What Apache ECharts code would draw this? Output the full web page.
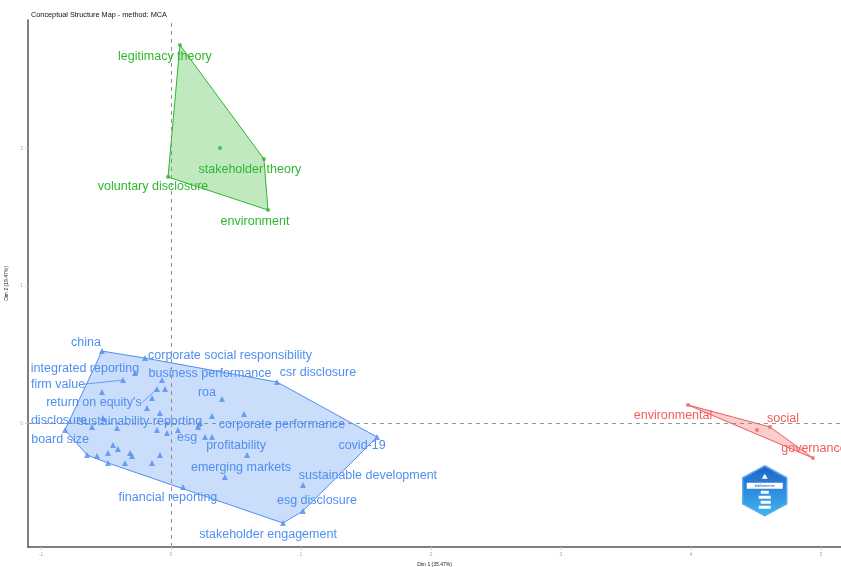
<!DOCTYPE html>
<html>
<head>
<meta charset="utf-8">
<script src="https://cdn.jsdelivr.net/npm/echarts@6/dist/echarts.min.js"></script>
<style>html,body{margin:0;padding:0;background:#fff}#c{width:841px;height:567px}</style>
</head>
<body>
<div id="c"></div>
<script>
// ---------- data ----------
const blueWords = ["china","corporate social responsibility","integrated reporting","business performance","csr disclosure","firm value","roa","return on equity's","disclosure","sustainability reporting","corporate performance","board size","esg","covid-19","profitability","emerging markets","sustainable development","financial reporting","esg disclosure","stakeholder engagement"];
const blueDim1 = [-0.531,-0.200,-0.277,-0.069,0.815,-0.369,0.392,-0.108,-0.815,-0.085,0.562,-0.646,0.054,1.585,0.585,0.415,1.015,0.092,1.015,0.862];
const blueDim2 = [0.527,0.476,0.367,0.316,0.302,0.316,0.178,0.251,-0.047,0.076,0.069,-0.229,-0.047,-0.098,-0.229,-0.389,-0.447,-0.462,-0.636,-0.724];
// unlabeled terms of the blue cluster
const blueExtraDim1 = [-0.531,-0.046,-0.185,-0.146,0.315,0.223,-0.108,-0.031,0.262,0.315,-0.415,-0.608,-0.523,-0.569,-0.485,-0.446,-0.408,-0.315,-0.300,-0.354,-0.485,-0.146,-0.085,0.208];
const blueExtraDim2 = [0.229,0.251,0.113,0.185,0.055,0.004,-0.047,-0.069,-0.098,-0.098,-0.033,-0.025,0.040,-0.236,-0.215,-0.156,-0.185,-0.215,-0.236,-0.287,-0.287,-0.287,-0.229,-0.025];

const greenWords = ["legitimacy theory","stakeholder theory","voluntary disclosure","environment"];
const greenDim1 = [0.069,0.715,-0.023,0.746];
const greenDim2 = [2.753,1.924,1.793,1.553];

const redWords = ["environmental","social","governance"];
const redDim1 = [3.977,4.608,4.938];
const redDim2 = [0.135,-0.025,-0.251];

// cluster centroids: blue, green, red
const centroidDim1 = [-0.03,0.377,4.508];
const centroidDim2 = [0.0,2.004,-0.047];

const xTicks = [-1,0,1,2,3,4,5];
const yTicks = [0,1,2];

// ---------- label layout (pixel nudges, repel-like) ----------
const blueNudge = [[-16,-9],[85,-3],[-50,-5],[48,-7],[41,-9],[-65,4],[-15,-7],[-63,14],[-6,-9],[-20,8],[38,10],[-27,-15],[9,8],[-15,9],[-11,-9],[16,-9],[65,-9],[-15,10],[14,-10],[-15,11]];
const blueSegment = [false,false,false,false,false,true,false,true,false,false,false,false,false,false,false,false,false,false,false,false];
const greenNudge = [[-15,12],[-14,11],[-15,10],[-13,12]];
const redNudge = [[-15,11],[13,-8],[1,-9]];

const BLUE = '#4f8ff0', GREEN = '#2fb62f', RED = '#f25c5c';
const FONT = '"Liberation Sans", Arial, sans-serif';
const LABEL_SIZE = 12.5;

const ctx = document.createElement('canvas').getContext('2d');
ctx.font = LABEL_SIZE + 'px ' + FONT;
function textW(t){ return ctx.measureText(t).width; }

function zip(a,b){ return a.map((v,i)=>[v,b[i]]); }

function hull(pts){
  const p = pts.slice().sort((a,b)=>a[0]-b[0]||a[1]-b[1]);
  const cross=(o,a,b)=>(a[0]-o[0])*(b[1]-o[1])-(a[1]-o[1])*(b[0]-o[0]);
  const lower=[],upper=[];
  for(const q of p){ while(lower.length>=2&&cross(lower[lower.length-2],lower[lower.length-1],q)<=0) lower.pop(); lower.push(q); }
  for(let i=p.length-1;i>=0;i--){ const q=p[i]; while(upper.length>=2&&cross(upper[upper.length-2],upper[upper.length-1],q)<=0) upper.pop(); upper.push(q); }
  upper.pop(); lower.pop();
  return lower.concat(upper);
}

const bluePts = zip(blueDim1,blueDim2).concat(zip(blueExtraDim1,blueExtraDim2));
const greenPts = zip(greenDim1,greenDim2);
const redPts = zip(redDim1,redDim2);
const hulls = [hull(bluePts), hull(greenPts), hull(redPts)];
const hullColors = [BLUE, GREEN, RED];

function rgba(hex,a){ const n=parseInt(hex.slice(1),16); return `rgba(${n>>16},${(n>>8)&255},${n&255},${a})`; }

function labelSeries(words, d1, d2, nudges, color, segs){
  return {
    type:'custom', z:5, silent:true, clip:false,
    data: words.map((w,i)=>[d1[i], d2[i], i]),
    renderItem:function(params, api){
      const i = api.value(2);
      const pt = api.coord([api.value(0), api.value(1)]);
      const n = nudges[i];
      const cx = pt[0]+n[0], cy = pt[1]+n[1];
      const w = textW(words[i]);
      const children = [];
      if (segs && segs[i]){
        const ex = pt[0] > cx ? cx + w/2 : cx - w/2;
        children.push({type:'line', shape:{x1:ex, y1:cy, x2:pt[0], y2:pt[1]}, style:{stroke:color, lineWidth:0.8}});
      }
      children.push({type:'text', style:{text:words[i], x:cx, y:cy, align:'center', verticalAlign:'middle', fill:color, font:LABEL_SIZE+'px '+FONT}});
      return {type:'group', children:children};
    }
  };
}

const chart = echarts.init(document.getElementById('c'), null, {renderer:'canvas'});
const option = {
  animation:false,
  backgroundColor:'#fff',
  title:{text:'Conceptual Structure Map - method: MCA', left:26, top:6, textStyle:{fontSize:7.3, fontWeight:'normal', color:'#111', fontFamily:FONT}},
  grid:{left:28, right:0, top:20, bottom:20, containLabel:false, outerBoundsMode:'none'},
  xAxis:{
    type:'value', min:-1.1, max:5.154,
    name:'Dim 1 (35.47%)', nameLocation:'middle', nameGap:14,
    nameTextStyle:{fontSize:5, color:'#222', fontFamily:FONT},
    axisLine:{show:true, onZero:false, lineStyle:{color:'#555', width:1.5}},
    axisTick:{show:true, customValues:xTicks, length:3, lineStyle:{color:'#ccc'}},
    axisLabel:{show:true, customValues:xTicks, fontSize:5, color:'#aaa', margin:5, fontFamily:FONT},
    splitLine:{show:false}
  },
  yAxis:{
    type:'value', min:-0.898, max:2.935,
    name:'Dim 2 (19.47%)', nameLocation:'middle', nameGap:15,
    nameTextStyle:{fontSize:5, color:'#222', fontFamily:FONT},
    axisLine:{show:true, onZero:false, lineStyle:{color:'#555', width:1.5}},
    axisTick:{show:true, customValues:yTicks, length:3, lineStyle:{color:'#ccc'}},
    axisLabel:{show:true, customValues:yTicks, fontSize:5, color:'#aaa', margin:5, fontFamily:FONT},
    splitLine:{show:false}
  },
  series:[
    {
      type:'custom', z:1, silent:true,
      data:[[0],[1],[2]],
      renderItem:function(params, api){
        const k = params.dataIndex;
        const pts = hulls[k].map(p=>api.coord(p));
        return {type:'polygon', shape:{points:pts}, style:{fill:rgba(hullColors[k],0.3), stroke:hullColors[k], lineWidth:1}};
      }
    },
    {
      type:'scatter', z:2, silent:true, data:[],
      markLine:{silent:true, symbol:'none', label:{show:false},
        lineStyle:{type:[4,4], color:'#888', width:0.9},
        data:[{xAxis:0},{yAxis:0}]}
    },
    {type:'scatter', z:3, symbol:'triangle', symbolSize:6, itemStyle:{color:BLUE}, data:bluePts},
    {type:'scatter', z:3, symbol:'circle', symbolSize:4, itemStyle:{color:GREEN}, data:greenPts},
    {type:'scatter', z:3, symbol:'rect', symbolSize:3.5, itemStyle:{color:RED}, data:redPts},
    {type:'scatter', z:3, symbol:'circle', symbolSize:4,
      itemStyle:{color:function(p){return hullColors[p.dataIndex];}},
      data:zip(centroidDim1, centroidDim2)},
    labelSeries(blueWords, blueDim1, blueDim2, blueNudge, BLUE, blueSegment),
    labelSeries(greenWords, greenDim1, greenDim2, greenNudge, GREEN, null),
    labelSeries(redWords, redDim1, redDim2, redNudge, RED, null)
  ],
  graphic:[
    {type:'group', left:742, top:465, children:[
      {type:'polygon', shape:{points:[[22,0],[44,12],[44,38],[22,50],[0,38],[0,12]]},
        style:{fill:new echarts.graphic.LinearGradient(0,0,0,1,[{offset:0,color:'#1f5fc8'},{offset:1,color:'#3cb8f0'}]), stroke:'#5aa9f0', lineWidth:1.5}},
      {type:'rect', shape:{x:4, y:17, width:36, height:6}, style:{fill:'#fff'}},
      {type:'text', style:{text:'bibliometrix', x:22, y:20, align:'center', verticalAlign:'middle', fontSize:4, fill:'#1f5fc8', fontFamily:FONT}},
      {type:'polygon', shape:{points:[[22,8],[25,13],[19,13]]}, style:{fill:'#fff'}},
      {type:'rect', shape:{x:18, y:25, width:8, height:3}, style:{fill:'#fff'}},
      {type:'rect', shape:{x:16, y:30, width:12, height:3}, style:{fill:'#fff'}},
      {type:'rect', shape:{x:18, y:35, width:10, height:3}, style:{fill:'#fff'}},
      {type:'rect', shape:{x:16, y:40, width:12, height:3}, style:{fill:'#fff'}}
    ]}
  ]
};
chart.setOption(option);
</script>
</body>
</html>
